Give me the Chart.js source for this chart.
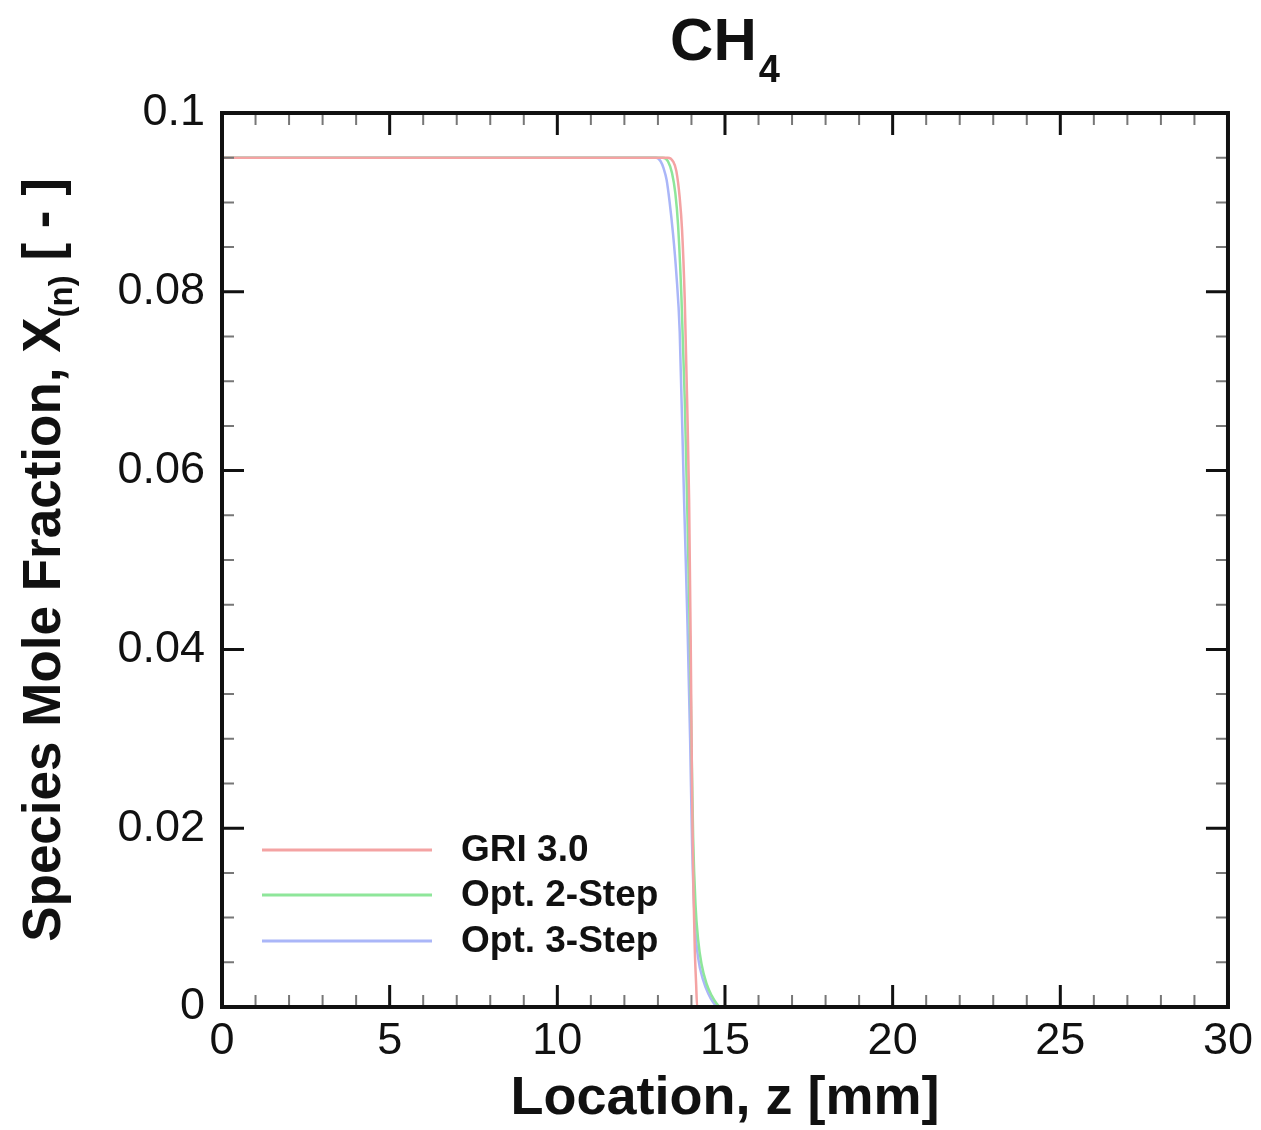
<!DOCTYPE html>
<html>
<head>
<meta charset="utf-8">
<script src="https://cdn.jsdelivr.net/npm/chart.js@4.4.1/dist/chart.umd.min.js"></script>
<style>
  html, body { margin: 0; padding: 0; background: #fff; }
  #wrap { width: 1261px; height: 1130px; }
</style>
</head>
<body>
<div id="wrap"><canvas id="ch4Chart" width="1261" height="1130"></canvas></div>
<script>
// location z [mm] and mole fraction for each mechanism
const griZ = [0, 13.3, 13.45, 13.55, 13.65, 13.72, 13.8, 13.87, 13.93, 13.98, 14.02, 14.06, 14.1, 14.14, 14.17, 15, 30];
const griX = [0.095, 0.095, 0.0946, 0.0935, 0.0905, 0.0869, 0.0791, 0.068, 0.0567, 0.040, 0.0232, 0.013, 0.0064, 0.0025, 0, 0, 0];

const opt2Z = [0, 13.15, 13.3, 13.42, 13.52, 13.6, 13.7, 13.8, 13.87, 13.95, 14.0, 14.05, 14.12, 14.2, 14.3, 14.45, 14.6, 14.75, 14.87, 30];
const opt2X = [0.095, 0.095, 0.0946, 0.0933, 0.091, 0.0875, 0.0795, 0.068, 0.0567, 0.042, 0.030, 0.019, 0.0115, 0.0075, 0.0048, 0.0026, 0.0013, 0.0004, 0, 0];

const opt3Z = [0, 12.95, 13.08, 13.17, 13.26, 13.35, 13.45, 13.55, 13.65, 13.78, 13.88, 13.96, 14.02, 14.1, 14.2, 14.35, 14.5, 14.65, 14.78, 30];
const opt3X = [0.095, 0.095, 0.0946, 0.0938, 0.0925, 0.0900, 0.0865, 0.082, 0.0755, 0.0567, 0.043, 0.030, 0.018, 0.0095, 0.0055, 0.0030, 0.0015, 0.0005, 0, 0];

const seriesNames = ['GRI 3.0', 'Opt. 2-Step', 'Opt. 3-Step'];
const seriesColors = ['#f4a3a3', '#8ee69a', '#aab6f8'];

const xTicks = [0, 5, 10, 15, 20, 25, 30];
const yTicks = [0, 0.02, 0.04, 0.06, 0.08, 0.1];

function toPoints(zs, xs) {
    return zs.map((z, i) => ({ x: z, y: xs[i] }));
}

const FONT = "'Liberation Sans', Arial, Helvetica, sans-serif";

// frame, inward ticks, titles and legend drawn on top
const decorPlugin = {
    id: 'decor',
    afterDatasetsDraw(chart) {
        const ctx = chart.ctx;
        const a = chart.chartArea;
        const sx = chart.scales.x, sy = chart.scales.y;
        ctx.save();

        // minor ticks
        ctx.strokeStyle = '#777';
        ctx.lineWidth = 2;
        ctx.beginPath();
        for (let v = 0; v <= 30; v += 1) {
            if (v % 5 === 0) continue;
            const px = sx.getPixelForValue(v);
            ctx.moveTo(px, a.bottom); ctx.lineTo(px, a.bottom - 12);
            ctx.moveTo(px, a.top); ctx.lineTo(px, a.top + 12);
        }
        for (let k = 0; k <= 20; k++) {
            if (k % 4 === 0) continue;
            const py = sy.getPixelForValue(k * 0.005);
            ctx.moveTo(a.left, py); ctx.lineTo(a.left + 12, py);
            ctx.moveTo(a.right, py); ctx.lineTo(a.right - 12, py);
        }
        ctx.stroke();

        // major ticks
        ctx.strokeStyle = '#111';
        ctx.lineWidth = 3;
        ctx.beginPath();
        xTicks.forEach(v => {
            const px = sx.getPixelForValue(v);
            ctx.moveTo(px, a.bottom); ctx.lineTo(px, a.bottom - 22);
            ctx.moveTo(px, a.top); ctx.lineTo(px, a.top + 22);
        });
        yTicks.forEach(v => {
            const py = sy.getPixelForValue(v);
            ctx.moveTo(a.left, py); ctx.lineTo(a.left + 22, py);
            ctx.moveTo(a.right, py); ctx.lineTo(a.right - 22, py);
        });
        ctx.stroke();

        // frame
        ctx.lineWidth = 4;
        ctx.strokeStyle = '#111';
        ctx.strokeRect(a.left, a.top, a.right - a.left, a.bottom - a.top);

        // legend
        const legY = [850, 895, 941];
        ctx.font = 'bold 37px ' + FONT;
        ctx.textBaseline = 'middle';
        ctx.textAlign = 'left';
        seriesNames.forEach((name, i) => {
            ctx.strokeStyle = seriesColors[i];
            ctx.lineWidth = 3;
            ctx.beginPath();
            ctx.moveTo(262, legY[i]);
            ctx.lineTo(432, legY[i]);
            ctx.stroke();
            ctx.fillStyle = '#111';
            ctx.fillText(name, 461, legY[i] + 1);
        });

        // title CH4
        const cx = (a.left + a.right) / 2;
        ctx.textBaseline = 'alphabetic';
        ctx.font = 'bold 60px ' + FONT;
        const wCH = ctx.measureText('CH').width;
        ctx.font = 'bold 38px ' + FONT;
        const w4 = ctx.measureText('4').width;
        const tx = cx - (wCH + w4 + 2) / 2;
        ctx.font = 'bold 60px ' + FONT;
        ctx.fillText('CH', tx, 60);
        ctx.font = 'bold 38px ' + FONT;
        ctx.fillText('4', tx + wCH + 2, 82);

        // x axis title
        ctx.font = 'bold 54px ' + FONT;
        ctx.textAlign = 'center';
        ctx.fillText('Location, z [mm]', cx, 1114);

        // y axis title with subscript
        const cy = (a.top + a.bottom) / 2;
        const parts = [
            { t: 'Species Mole Fraction, X', f: 'bold 53px ', dy: 0 },
            { t: '(n)', f: 'bold 33px ', dy: 12 },
            { t: ' [ - ]', f: 'bold 53px ', dy: 0 }
        ];
        let total = 0;
        parts.forEach(p => { ctx.font = p.f + FONT; p.w = ctx.measureText(p.t).width; total += p.w; });
        ctx.translate(60, cy);
        ctx.rotate(-Math.PI / 2);
        ctx.textAlign = 'left';
        let pos = -total / 2;
        parts.forEach(p => {
            ctx.font = p.f + FONT;
            ctx.fillText(p.t, pos, p.dy);
            pos += p.w;
        });
        ctx.restore();
    }
};

const ctx = document.getElementById('ch4Chart').getContext('2d');
new Chart(ctx, {
    type: 'scatter',
    data: {
        datasets: [
            { label: seriesNames[0], data: toPoints(griZ, griX), borderColor: seriesColors[0] },
            { label: seriesNames[1], data: toPoints(opt2Z, opt2X), borderColor: seriesColors[1] },
            { label: seriesNames[2], data: toPoints(opt3Z, opt3X), borderColor: seriesColors[2] }
        ].map(d => Object.assign(d, {
            showLine: true,
            borderWidth: 2.5,
            pointRadius: 0,
            cubicInterpolationMode: 'monotone',
            fill: false
        }))
    },
    options: {
        responsive: false,
        animation: false,
        layout: { padding: { left: 0, top: 113, right: 31, bottom: 0 } },
        plugins: {
            legend: { display: false },
            title: { display: false },
            tooltip: { enabled: false }
        },
        scales: {
            x: {
                type: 'linear',
                min: 0,
                max: 30,
                grid: { display: false, drawTicks: false },
                border: { display: false },
                afterFit: s => { s.height = 123; },
                afterBuildTicks: s => { s.ticks = xTicks.map(v => ({ value: v })); },
                ticks: {
                    color: '#111',
                    padding: 8,
                    maxRotation: 0,
                    font: { family: FONT, size: 45 },
                    callback: v => String(v)
                }
            },
            y: {
                type: 'linear',
                min: 0,
                max: 0.1,
                grid: { display: false, drawTicks: false },
                border: { display: false },
                afterFit: s => { s.width = 222; },
                afterBuildTicks: s => { s.ticks = yTicks.map(v => ({ value: v })); },
                ticks: {
                    color: '#111',
                    padding: 17,
                    font: { family: FONT, size: 45 },
                    callback: v => String(+v.toFixed(2))
                }
            }
        }
    },
    plugins: [decorPlugin]
});
</script>
</body>
</html>
